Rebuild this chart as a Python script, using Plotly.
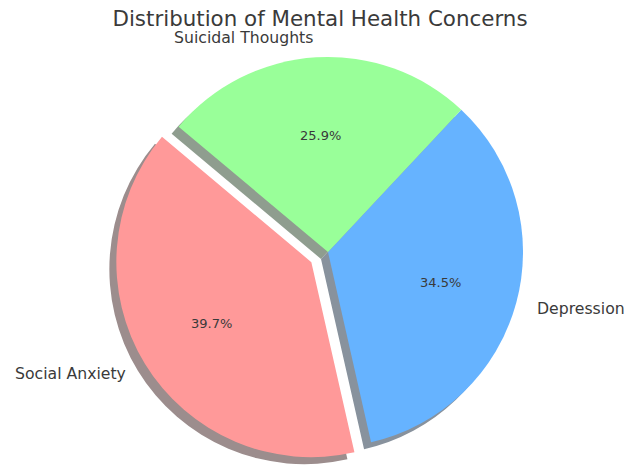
import math
import plotly.graph_objects as go

categories = ["Social Anxiety", "Depression", "Suicidal Thoughts"]
counts = [23, 20, 15]
explode = [0.1, 0, 0]
colors = ["#ff9999", "#66b3ff", "#99ff99"]
shadow_colors = ["rgb(156,141,141)", "rgb(136,146,157)", "rgb(143,157,143)"]

W, H = 627, 470
cx, cy, r = 328, 252, 195          # pie centre / radius in pixels
start_angle = 140                  # degrees, counter-clockwise from 3 o'clock
shadow_d = 7                       # shadow offset (px, left & down)
CLEAR = "rgba(0,0,0,0)"

total = sum(counts)
spans = [360 * v / total for v in counts]
starts = [start_angle + sum(spans[:i]) for i in range(len(counts))]
mids = [s + sp / 2 for s, sp in zip(starts, spans)]
# plotly rotation: clockwise-from-top angle where first (ccw) slice begins
rotation = ((90 - (start_angle + spans[0])) + 540) % 360 - 180


def slice_center(i):
    a = math.radians(mids[i])
    off = explode[i] * r
    return cx + off * math.cos(a), cy - off * math.sin(a)


def dom(x, y):
    return dict(x=[(x - r) / W, (x + r) / W], y=[1 - (y + r) / H, 1 - (y - r) / H])


fig = go.Figure()
groups = {}
for i in range(len(counts)):
    groups.setdefault(slice_center(i), []).append(i)

common = dict(labels=categories, values=counts, sort=False, direction="counterclockwise",
              rotation=rotation, textinfo="none", hoverinfo="skip", showlegend=False)

# shadows first (below every wedge)
for (x, y), idx in groups.items():
    fig.add_trace(go.Pie(**common, domain=dom(x - shadow_d, y + shadow_d),
                         marker=dict(colors=[shadow_colors[i] if i in idx else CLEAR
                                             for i in range(len(counts))], line=dict(width=0))))
for (x, y), idx in groups.items():
    fig.add_trace(go.Pie(**common, domain=dom(x, y),
                         marker=dict(colors=[colors[i] if i in idx else CLEAR
                                             for i in range(len(counts))], line=dict(width=0))))

annotations = []
for i in range(len(counts)):
    x, y = slice_center(i)
    a = math.radians(mids[i])
    # percentage at 0.6 r
    px, py = x + 0.6 * r * math.cos(a), y - 0.6 * r * math.sin(a)
    annotations.append(dict(x=px / W, y=1 - py / H, xref="paper", yref="paper",
                            text=f"{100 * counts[i] / total:.1f}%", showarrow=False,
                            xanchor="center", yanchor="middle",
                            font=dict(family="DejaVu Sans", size=13, color="#3a3a3a")))
    # label at 1.1 r
    lx, ly = x + 1.1 * r * math.cos(a), y - 1.1 * r * math.sin(a)
    annotations.append(dict(x=lx / W, y=1 - ly / H, xref="paper", yref="paper",
                            text=categories[i], showarrow=False,
                            xanchor="left" if math.cos(a) > 0 else "right", yanchor="middle",
                            font=dict(family="DejaVu Sans", size=15.7, color="#3a3a3a")))

fig.update_layout(
    width=W, height=H, margin=dict(l=0, r=0, t=0, b=0),
    paper_bgcolor="white", plot_bgcolor="white", showlegend=False,
    annotations=annotations,
    title=dict(text="Distribution of Mental Health Concerns", x=320 / W, xanchor="center",
               y=1 - 19 / H, yanchor="middle",
               font=dict(family="DejaVu Sans", size=21.4, color="#3a3a3a")),
)
fig.write_html("out.html")
